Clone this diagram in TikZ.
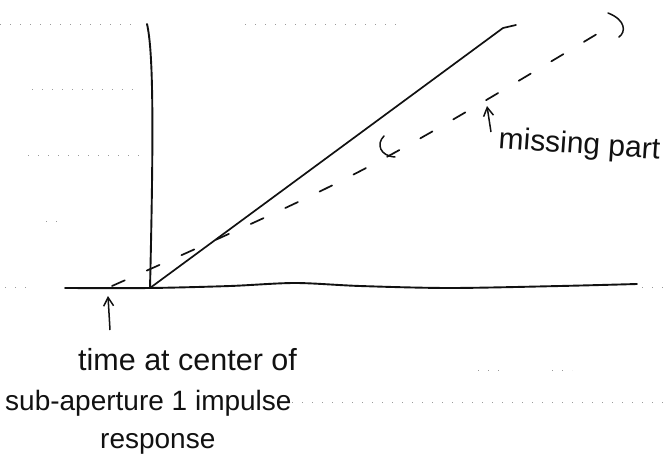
\documentclass[tikz,border=0pt]{standalone}
\usepackage{fontspec}
\setmainfont{Liberation Sans}
\usetikzlibrary{arrows.meta, positioning, calc}
\definecolor{inkblack}{HTML}{111111}
\definecolor{ruledot}{HTML}{9A9A9A}
\tikzstyle{handtext} = [inner sep=0pt, font=\fontsize{28}{32}\selectfont, text=inkblack]
\tikzstyle{axisline} = [line width=1.9pt, color=inkblack, line cap=round, line join=round]
\tikzstyle{trueline} = [line width=1.7pt, color=inkblack, line cap=round, line join=round]
\tikzstyle{missline} = [line width=1.7pt, color=inkblack, line cap=round, dash pattern=on 14pt off 24pt]
\tikzstyle{bracket} = [line width=1.5pt, color=inkblack, line cap=round]
\tikzstyle{ruled} = [line width=0.9pt, color=ruledot, dash pattern=on 1pt off 9pt]
\tikzstyle{arrw} = [line width=1.5pt, color=inkblack, -{Straight Barb[length=3mm, width=3.5mm]}]

\begin{document}
\begin{tikzpicture}[x=1pt, y=-1pt]
    \useasboundingbox (0,0) rectangle (670,463);

    % ruled paper
    \draw [ruled] (0,24) -- (140,24);
    \draw [ruled] (245,24) -- (405,24);
    \draw [ruled] (32,89) -- (140,89);
    \draw [ruled] (28,155) -- (145,155);
    \draw [ruled] (46,221) -- (62,221);
    \draw [ruled] (5,287) -- (32,287);
    \draw [ruled] (642,287) -- (670,287);
    \draw [ruled] (478,370) -- (500,370);
    \draw [ruled] (552,370) -- (572,370);
    \draw [ruled] (292,402) -- (670,402);

    % axes
    \coordinate (orig) at (150,288);
    \coordinate (ytop) at (147,24);
    \coordinate (xleft) at (65,288);
    \coordinate (xright) at (637,284);
    \draw [axisline] (ytop) .. controls (153,50) and (154,120) .. (orig);
    \draw [axisline] plot[smooth] coordinates {(65,288) (150,288) (230,286) (295,283) (360,286) (450,288) (560,286) (637,284)};

    % response
    \coordinate (kink) at (503,28);
    \coordinate (rtop) at (516,25);
    \draw [trueline] (orig) -- (kink) -- (rtop);

    % expected response, dashed
    \coordinate (dstart) at (112,286);
    \coordinate (dend) at (607,28);
    \draw [missline] (dstart) .. controls (360,176) .. (dend);

    % brackets round the missing part
    \draw [bracket] (384,136) .. controls (376,144) and (380,156) .. (395,157);
    \draw [bracket] (608,13) .. controls (626,20) and (626,32) .. (619,37);

    % labels
    \node (misslbl) [handtext, anchor=base west, rotate=-4, font=\fontsize{30}{34}\selectfont] at (498,148) {missing part};
    \coordinate (missfoot) at (491,132);
    \coordinate (misstip) at (487,106);
    \draw [arrw] (missfoot) -- (misstip);

    \node (tlbl1) [handtext, anchor=base west, font=\fontsize{30.5}{34}\selectfont] at (78,370) {time at center of};
    \node (tlbl2) [handtext, anchor=base west] at (5,410) {sub-aperture 1 impulse};
    \node (tlbl3) [handtext, anchor=base west] at (100,448) {response};
    \coordinate (tfoot) at (110,330);
    \coordinate (ttip) at (108,296);
    \draw [arrw] (tfoot) -- (ttip);
\end{tikzpicture}
\end{document}
